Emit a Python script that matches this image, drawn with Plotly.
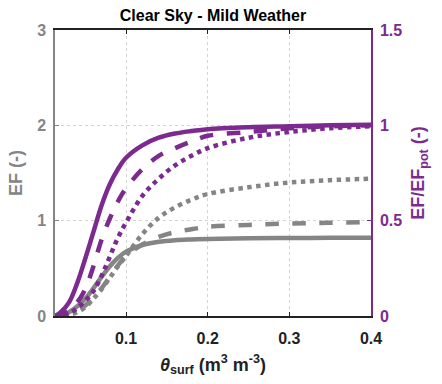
import plotly.graph_objects as go

theta = [0.013, 0.02, 0.03, 0.04, 0.05, 0.06, 0.07, 0.08, 0.09, 0.1,
         0.12, 0.14, 0.16, 0.18, 0.2, 0.25, 0.3, 0.35, 0.4]

# EF (left axis, gray)
ef_solid = [0.0, 0.005, 0.04, 0.1, 0.18, 0.29, 0.41, 0.52, 0.61, 0.675,
            0.745, 0.778, 0.795, 0.803, 0.808, 0.815, 0.818, 0.82, 0.82]
ef_dash = [0.0, 0.0, 0.015, 0.05, 0.11, 0.19, 0.29, 0.41, 0.53, 0.63,
           0.75, 0.83, 0.88, 0.91, 0.935, 0.955, 0.97, 0.978, 0.985]
ef_dot = [0.0, 0.0, 0.01, 0.04, 0.09, 0.18, 0.28, 0.40, 0.52, 0.63,
          0.86, 1.03, 1.14, 1.22, 1.28, 1.35, 1.40, 1.425, 1.44]

# EF/EFpot (right axis, purple)
r_solid = [0.0, 0.02, 0.07, 0.17, 0.30, 0.44, 0.58, 0.69, 0.77, 0.83,
           0.895, 0.935, 0.957, 0.97, 0.98, 0.99, 0.995, 1.0, 1.003]
r_dash = [0.0, 0.005, 0.03, 0.07, 0.14, 0.26, 0.40, 0.51, 0.60, 0.67,
          0.77, 0.84, 0.88, 0.915, 0.945, 0.965, 0.985, 0.995, 1.0]
r_dot = [0.0, 0.003, 0.015, 0.04, 0.08, 0.13, 0.21, 0.31, 0.41, 0.49,
         0.63, 0.72, 0.79, 0.84, 0.88, 0.935, 0.965, 0.985, 0.995]

GRAY = "#858585"
PURPLE = "#7D2A90"
FONT = "Liberation Sans, Arial, sans-serif"

fig = go.Figure()
for y, d in [(ef_solid, "solid"), (ef_dash, "dash"), (ef_dot, "dot")]:
    fig.add_trace(go.Scatter(x=theta, y=y, mode="lines",
                             line=dict(color=GRAY, width=4.5, dash=d, shape="spline"),
                             showlegend=False))
for y, d in [(r_solid, "solid"), (r_dash, "dash"), (r_dot, "dot")]:
    fig.add_trace(go.Scatter(x=theta, y=y, mode="lines", yaxis="y2",
                             line=dict(color=PURPLE, width=4.5, dash=d, shape="spline"),
                             showlegend=False))

fig.update_layout(
    width=442, height=384,
    margin=dict(l=55, r=71, t=30, b=65),
    paper_bgcolor="white", plot_bgcolor="white",
    font=dict(family=FONT, size=16),
    title=dict(text="<b>Clear Sky - Mild Weather</b>", x=0.5, xref="paper", y=1 - 15 / 384,
               yref="container", yanchor="middle", xanchor="center",
               font=dict(size=16, color="black", family=FONT)),
    xaxis=dict(range=[0.013, 0.4], tickvals=[0.1, 0.2, 0.3, 0.4], ticktext=["0.1", "0.2", "0.3", "0.4"],
               showline=True, linecolor="#222222", linewidth=1.5, mirror="ticks",
               ticks="inside", ticklen=4, tickcolor="#222222", ticklabelstandoff=7,
               showgrid=True, gridcolor="#d4d4d4", griddash="dot", gridwidth=1,
               zeroline=False,
               tickfont=dict(size=16, color="#222222", family=FONT, weight="bold"),
               title=dict(text="<b><i>θ</i><sub>surf</sub> (m<sup>3</sup> m<sup>-3</sup>)</b>",
                          font=dict(size=18, color="#222222"), standoff=12)),
    yaxis=dict(range=[0, 3], tickvals=[0, 1, 2, 3], showline=True, linecolor=GRAY, linewidth=1.5,
               ticks="inside", ticklen=4, tickcolor=GRAY, ticklabelstandoff=4,
               showgrid=True, gridcolor="#d4d4d4", griddash="dot", zeroline=False,
               tickfont=dict(size=16, color=GRAY, family=FONT, weight="bold"),
               title=dict(text="<b>EF (-)</b>", font=dict(size=18, color=GRAY), standoff=10)),
    yaxis2=dict(range=[0, 1.5], tickvals=[0, 0.5, 1, 1.5], ticktext=["0", "0.5", "1", "1.5"],
                overlaying="y", side="right", showline=True, linecolor=PURPLE, linewidth=1.5,
                ticks="inside", ticklen=4, tickcolor=PURPLE, showgrid=False, zeroline=False,
                ticklabelstandoff=4,
                tickfont=dict(size=16, color=PURPLE, family=FONT, weight="bold"),
                title=dict(text="<b>EF/EF<sub>pot</sub> (-)</b>", font=dict(size=18, color=PURPLE), standoff=10)),
)

fig.write_html("out.html")
